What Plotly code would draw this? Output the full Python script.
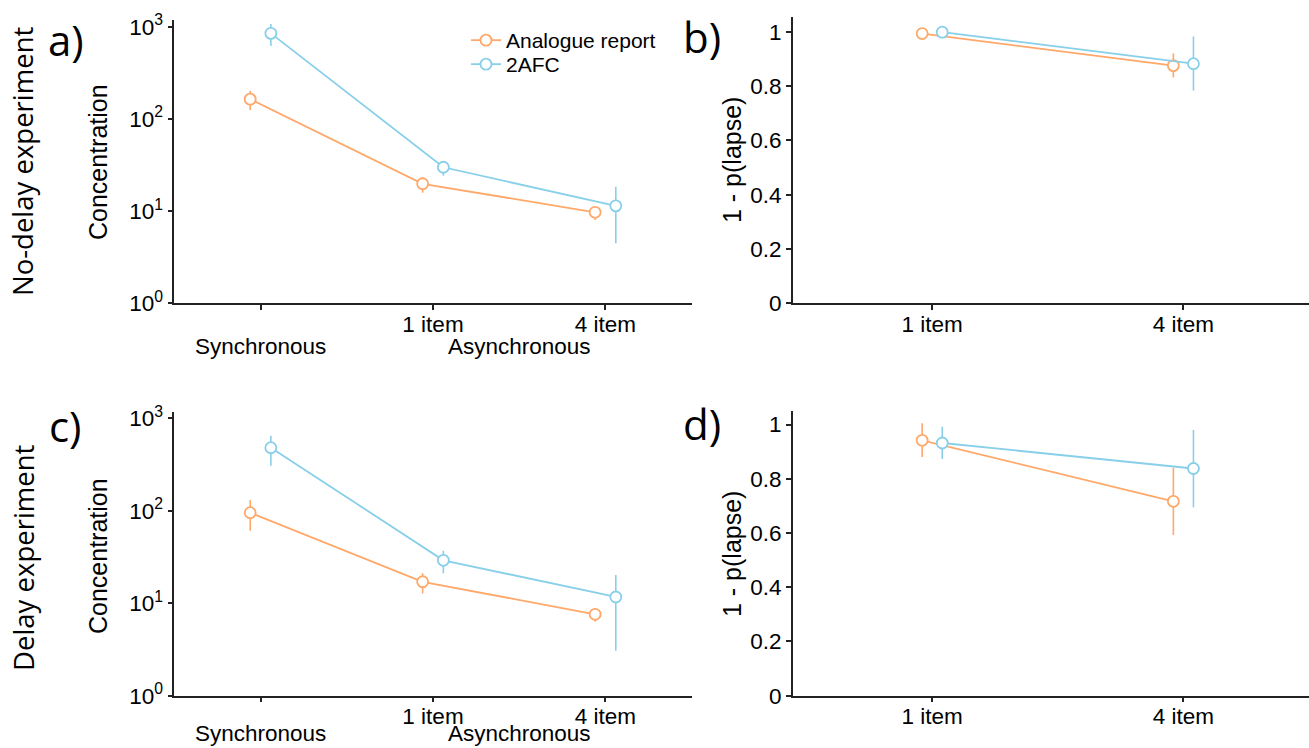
import plotly.graph_objects as go

W, H = 1309, 748

# ---------------- data ----------------
conc_categories = ["Synchronous", "1 item", "4 item"]
conc_ticktext = ["", "1 item", "4 item"]
lapse_ticktext = ["1 item", "4 item"]
series_names = ["Analogue report", "2AFC"]

# Panel a: no-delay experiment, concentration
conc_analogue_nodelay = [164, 19.8, 9.7]
conc_analogue_nodelay_hi = [202, 23.3, 10.9]
conc_analogue_nodelay_lo = [125, 15.8, 8.0]
conc_2afc_nodelay = [848, 29.9, 11.4]
conc_2afc_nodelay_hi = [1070, 34.3, 18.4]
conc_2afc_nodelay_lo = [618, 24.2, 4.48]

# Panel c: delay experiment, concentration
conc_analogue_delay = [95.6, 17.1, 7.6]
conc_analogue_delay_hi = [131, 21.1, 8.8]
conc_analogue_delay_lo = [61, 12.8, 6.3]
conc_2afc_delay = [483, 29.2, 11.7]
conc_2afc_delay_hi = [651, 37.0, 20.2]
conc_2afc_delay_lo = [308, 21.1, 3.07]

# Panel b: no-delay experiment, 1 - p(lapse)
lapse_analogue_nodelay = [0.994, 0.876]
lapse_analogue_nodelay_hi = [0.999, 0.921]
lapse_analogue_nodelay_lo = [0.988, 0.832]
lapse_2afc_nodelay = [0.999, 0.883]
lapse_2afc_nodelay_hi = [1.0, 0.983]
lapse_2afc_nodelay_lo = [0.995, 0.784]

# Panel d: delay experiment, 1 - p(lapse)
lapse_analogue_delay = [0.942, 0.717]
lapse_analogue_delay_hi = [1.005, 0.841]
lapse_analogue_delay_lo = [0.880, 0.593]
lapse_2afc_delay = [0.932, 0.838]
lapse_2afc_delay_hi = [0.992, 0.980]
lapse_2afc_delay_lo = [0.873, 0.695]

# ---------------- style ----------------
ORANGE = "#FFA86A"
BLUE = "#88CFE9"
AXIS = "#222222"
SANS = "Liberation Sans, Arial, Helvetica, sans-serif"
HUMAN = "Open Sans, Noto Sans, sans-serif"
TICKFONT = dict(family=SANS, size=22.5, color="black")

def px_x(p):
    return p / W

def px_y(p):
    return 1 - p / H

fig = go.Figure()

def add_series(xs, ys, hi, lo, color, name, xa, ya, legend=None):
    fig.add_trace(go.Scatter(
        x=xs, y=ys, mode="lines+markers", name=name,
        xaxis=xa, yaxis=ya, showlegend=legend is not None,
        legend=legend if legend else "legend",
        line=dict(color=color, width=1.8),
        marker=dict(symbol="circle", size=11, color="white",
                    line=dict(color=color, width=1.8)),
        error_y=dict(type="data", symmetric=False,
                     array=[h - v for h, v in zip(hi, ys)],
                     arrayminus=[v - l for v, l in zip(ys, lo)],
                     color=color, thickness=1.6, width=0),
    ))

off_c = 0.06
off_l = 0.04
xc = list(range(len(conc_categories)))
xl = [1, 2]

# panel a
add_series([x - off_c for x in xc], conc_analogue_nodelay, conc_analogue_nodelay_hi,
           conc_analogue_nodelay_lo, ORANGE, series_names[0], "x", "y", "legend")
add_series([x + off_c for x in xc], conc_2afc_nodelay, conc_2afc_nodelay_hi,
           conc_2afc_nodelay_lo, BLUE, series_names[1], "x", "y", "legend2")
# panel b
add_series([x - off_l for x in xl], lapse_analogue_nodelay, lapse_analogue_nodelay_hi,
           lapse_analogue_nodelay_lo, ORANGE, series_names[0], "x2", "y2")
add_series([x + off_l for x in xl], lapse_2afc_nodelay, lapse_2afc_nodelay_hi,
           lapse_2afc_nodelay_lo, BLUE, series_names[1], "x2", "y2")
# panel c
add_series([x - off_c for x in xc], conc_analogue_delay, conc_analogue_delay_hi,
           conc_analogue_delay_lo, ORANGE, series_names[0], "x3", "y3")
add_series([x + off_c for x in xc], conc_2afc_delay, conc_2afc_delay_hi,
           conc_2afc_delay_lo, BLUE, series_names[1], "x3", "y3")
# panel d
add_series([x - off_l for x in xl], lapse_analogue_delay, lapse_analogue_delay_hi,
           lapse_analogue_delay_lo, ORANGE, series_names[0], "x4", "y4")
add_series([x + off_l for x in xl], lapse_2afc_delay, lapse_2afc_delay_hi,
           lapse_2afc_delay_lo, BLUE, series_names[1], "x4", "y4")

common = dict(showline=True, linecolor=AXIS, linewidth=1.5, ticks="outside",
              ticklen=5, tickwidth=1.5, tickcolor=AXIS, showgrid=False,
              zeroline=False, tickfont=TICKFONT, fixedrange=True, automargin=False)
xcommon = dict(common, ticklabelstandoff=-5)

left_dom = [px_x(174.3), px_x(691.7)]
right_dom = [px_x(792.8), 1.0]
top_dom = [px_y(303.3), px_y(20.3)]
bot_dom = [px_y(695.7), px_y(412)]

log_ticktext = ["10<sup>0</sup>", "10<sup>1</sup>", "10<sup>2</sup>", "10<sup>3</sup>"]
lin_ticktext = ["0", "0.2", "0.4", "0.6", "0.8", "1"]

fig.update_layout(
    template="none",
    xaxis=dict(domain=left_dom, range=[-0.5, 2.5], tickvals=xc, ticktext=conc_ticktext,
               anchor="y", **xcommon),
    yaxis=dict(domain=top_dom, type="log", range=[0, 3.07], tickvals=[1, 10, 100, 1000],
               ticktext=log_ticktext, anchor="x", **common),
    xaxis2=dict(domain=right_dom, range=[0.445, 2.5], tickvals=xl, ticktext=lapse_ticktext,
                anchor="y2", **xcommon),
    yaxis2=dict(domain=[px_y(303.3), px_y(17.3)], range=[0, 1.054],
                tickvals=[0, 0.2, 0.4, 0.6, 0.8, 1], ticktext=lin_ticktext,
                anchor="x2", **common),
    xaxis3=dict(domain=left_dom, range=[-0.5, 2.5], tickvals=xc, ticktext=conc_ticktext,
                anchor="y3", **xcommon),
    yaxis3=dict(domain=bot_dom, type="log", range=[0, 3.07], tickvals=[1, 10, 100, 1000],
                ticktext=log_ticktext, anchor="x3", **common),
    xaxis4=dict(domain=right_dom, range=[0.445, 2.5], tickvals=xl, ticktext=lapse_ticktext,
                anchor="y4", **xcommon),
    yaxis4=dict(domain=[px_y(695.7), px_y(411)], range=[0, 1.05],
                tickvals=[0, 0.2, 0.4, 0.6, 0.8, 1], ticktext=lin_ticktext,
                anchor="x4", **common),
)

ann = []
for yy, xref in ((346, "x"), (733, "x3")):
    ann.append(dict(x=0, y=px_y(yy), xref=xref, yref="paper", text=conc_categories[0],
                    showarrow=False, font=TICKFONT, xanchor="center", yanchor="middle"))
    ann.append(dict(x=1.5, y=px_y(yy), xref=xref, yref="paper", text="Asynchronous",
                    showarrow=False, font=TICKFONT, xanchor="center", yanchor="middle"))

title_font = dict(family=SANS, size=25, color="black")
for yc in (162, 556):
    ann.append(dict(x=px_x(98), y=px_y(yc), xref="paper", yref="paper", text="Concentration",
                    textangle=-90, showarrow=False, font=title_font,
                    xanchor="center", yanchor="middle"))
    ann.append(dict(x=px_x(732), y=px_y(yc - 2), xref="paper", yref="paper", text="1 - p(lapse)",
                    textangle=-90, showarrow=False, font=title_font,
                    xanchor="center", yanchor="middle"))

row_font = dict(family=HUMAN, size=27.5, color="black")
ann.append(dict(x=px_x(23), y=px_y(161), xref="paper", yref="paper", text="No-delay experiment",
                textangle=-90, showarrow=False, font=row_font, xanchor="center", yanchor="middle"))
ann.append(dict(x=px_x(23), y=px_y(558), xref="paper", yref="paper", text="Delay experiment",
                textangle=-90, showarrow=False, font=row_font, xanchor="center", yanchor="middle"))

letter_font = dict(family=HUMAN, size=42, color="black")
for txt, xx, yy in (("a)", 66, 40), ("b)", 702, 37), ("c)", 65, 425), ("d)", 702, 423)):
    ann.append(dict(x=px_x(xx), y=px_y(yy), xref="paper", yref="paper", text=txt,
                    showarrow=False, font=letter_font, xanchor="center", yanchor="middle"))

legend_common = dict(xanchor="left", yanchor="top", bgcolor="rgba(0,0,0,0)",
                     borderwidth=0, font=dict(family=SANS, size=21, color="black"),
                     itemwidth=30)

fig.update_layout(
    annotations=ann,
    width=W, height=H, autosize=False,
    margin=dict(l=0, r=0, t=0, b=0, pad=0, autoexpand=False),
    paper_bgcolor="white", plot_bgcolor="white",
    showlegend=True,
    legend=dict(x=px_x(466), y=px_y(20), **legend_common),
    legend2=dict(x=px_x(466), y=px_y(44), **legend_common),
)

fig.write_html("out.html")
